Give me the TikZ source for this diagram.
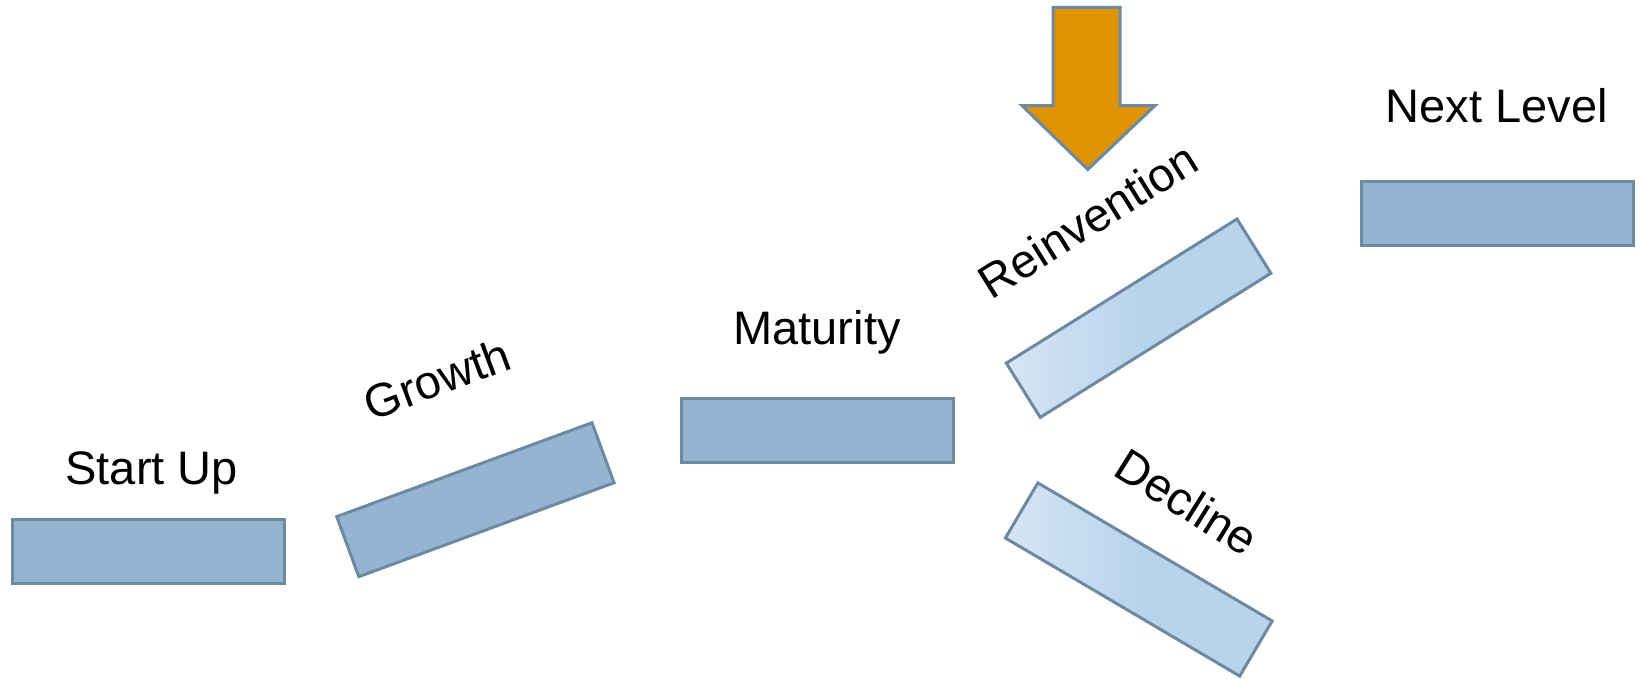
\documentclass[tikz,border=0pt]{standalone}
\usepackage{fontspec}
\setmainfont{Liberation Sans}
\definecolor{boxfill}{HTML}{95B4D2}
\definecolor{boxline}{HTML}{6E89A2}
\definecolor{lightA}{HTML}{D6E5F4}
\definecolor{lightB}{HTML}{B8D3EC}
\definecolor{arrowfill}{HTML}{E09300}
\begin{document}
\begin{tikzpicture}[x=0.5pt,y=-0.5pt,
  stage/.style={draw=boxline, line width=1.5pt, fill=boxfill, minimum width=136pt, minimum height=32pt, inner sep=0pt},
  lightstage/.style={draw=boxline, line width=1.5pt, left color=lightA, right color=lightB, middle color=lightB, minimum width=136pt, minimum height=32pt, inner sep=0pt},
  lbl/.style={font=\fontsize{23.5}{28}\selectfont, inner sep=0pt}]
\useasboundingbox (0,0) rectangle (1640,679);
% boxes
\node[stage] (startup) at (148.5,551) {};
\node[stage, rotate=20.2] (growth) at (475.4,499.7) {};
\node[stage] (maturity) at (817,431) {};
\node[lightstage, rotate=32] (reinv) at (1138.6,318.2) {};
\node[lightstage, rotate=-30.5] (decline) at (1138.8,579.5) {};
\node[stage] (next) at (1497.4,213.9) {};
% labels
\node[lbl] (tstartup) at (151.7,472.8) {Start Up};
\node[lbl, rotate=20.5] (tgrowth) at (437,379) {Growth};
\node[lbl] (tmaturity) at (817,332.6) {Maturity};
\node[lbl, rotate=32] (treinv) at (1087.8,220) {Reinvention};
\node[lbl, rotate=-32] (tdecline) at (1187,502) {Decline};
\node[lbl] (tnext) at (1496.8,105.6) {Next Level};
% arrow
\draw[draw=boxline, line width=1.5pt, fill=arrowfill, line join=miter]
  (1053,7.3) -- (1120,7.3) -- (1120,105.6) -- (1155,105.6) -- (1087.8,169.5)
  -- (1022,105.6) -- (1053,105.6) -- cycle;
\end{tikzpicture}
\end{document}
